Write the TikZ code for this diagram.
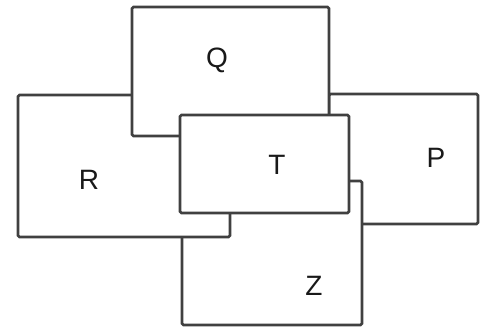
\documentclass[tikz,border=0pt]{standalone}
\usepackage{fontspec}
\setmainfont{Liberation Sans}
\usetikzlibrary{positioning}
\tikzset{card layout/.style={%
    y=-1pt,
    x=1pt,
    card/.style={%
        draw=black!75, fill=white, line width=2.6pt, rounded corners=1.5pt, inner sep=0pt
    },
    letter/.style={%
        inner sep=0pt, text=black!90, font=\fontsize{28}{28}\selectfont
    }
}}
\begin{document}
\begin{tikzpicture}[card layout]
            \useasboundingbox (0,0) rectangle (483,332);
            % back to front
            \node[card, minimum width=149pt, minimum height=130pt] (P) at (403.5,159) {};
            \node[card, minimum width=180pt, minimum height=144pt] (Z) at (272,253) {};
            \node[card, minimum width=212pt, minimum height=142pt] (R) at (124,166) {};
            \node[card, minimum width=197pt, minimum height=129pt] (Q) at (230.5,71.5) {};
            \node[card, minimum width=169pt, minimum height=98pt] (T) at (264.5,164) {};

            \node[letter] (labelP) at (436,158) {P};
            \node[letter] (labelZ) at (314,286) {Z};
            \node[letter] (labelR) at (89,180) {R};
            \node[letter] (labelQ) at (217,60) {Q};
            \node[letter] (labelT) at (277,165) {T};
        \end{tikzpicture}
\end{document}
